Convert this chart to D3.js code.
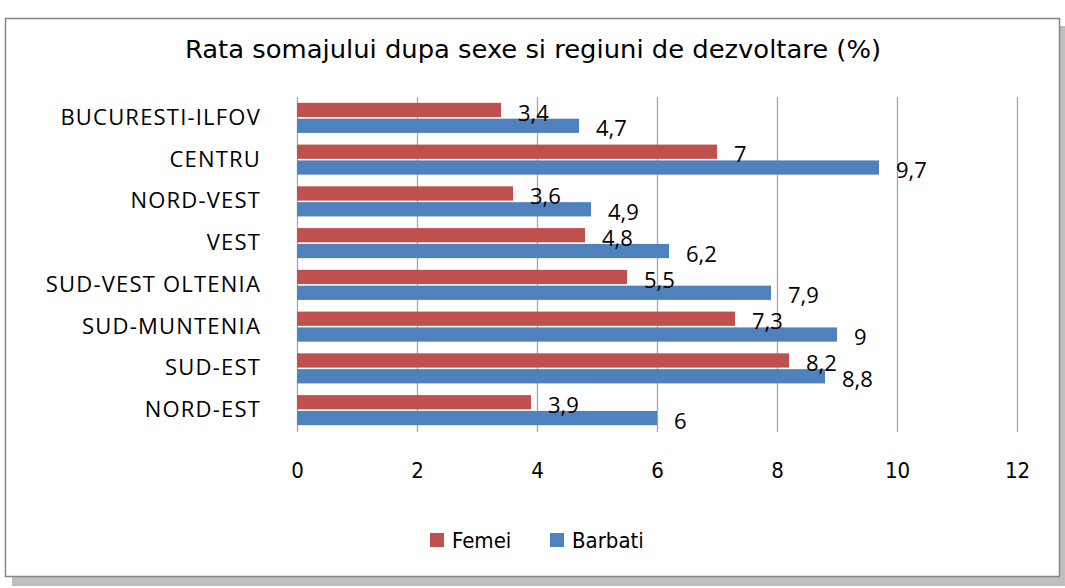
<!DOCTYPE html>
<html><head><meta charset="utf-8">
<script src="https://cdn.jsdelivr.net/npm/d3@7"></script>
<style>body{margin:0;background:#fff}svg{display:block}</style>
</head><body>
<svg id="c" width="1065" height="588"></svg>
<script>
const categories = ["BUCURESTI-ILFOV","CENTRU","NORD-VEST","VEST","SUD-VEST OLTENIA","SUD-MUNTENIA","SUD-EST","NORD-EST"];
const seriesNames = ["Femei","Barbati"];
const femei = [3.4,7,3.6,4.8,5.5,7.3,8.2,3.9];
const barbati = [4.7,9.7,4.9,6.2,7.9,9,8.8,6];
const tickValues = [0,2,4,6,8,10,12];
const colors = ["#C0504D","#4F81BD"];
const title = "Rata somajului dupa sexe si regiuni de dezvoltare (%)";

const narrow = "'Liberation Sans Narrow','DejaVu Sans Condensed','Liberation Sans',sans-serif";
const humanist = "'Open Sans','Noto Sans',sans-serif";
const svg = d3.select("#c");
// shadow and frame
svg.append("rect").attr("x",12).attr("y",26).attr("width",1053).attr("height",560).attr("fill","#bfbfbf");
svg.append("rect").attr("x",5.5).attr("y",18.5).attr("width",1054).attr("height",558).attr("fill","#fff").attr("stroke","#868686").attr("stroke-width",1.5);

svg.append("text").attr("x",533).attr("y",58).attr("text-anchor","middle")
  .attr("font-family",narrow)
  .attr("font-size",24).attr("fill","#000").attr("textLength",696).attr("lengthAdjust","spacingAndGlyphs").text(title);

const x = d3.scaleLinear().domain([0,12]).range([297,1017]);
const y = d3.scaleBand().domain(categories).range([97,431]).paddingInner(0.28).paddingOuter(0.14);
const ys = d3.scaleBand().domain(seriesNames).range([0,y.bandwidth()]).paddingInner(0.1);

// gridlines
svg.append("g").selectAll("line").data(tickValues).join("line")
  .attr("x1",d=>x(d)+0.5).attr("x2",d=>x(d)+0.5).attr("y1",97).attr("y2",432)
  .attr("stroke","#a6a6a6").attr("stroke-width",1.3);

// x axis labels
const xAxis = d3.axisBottom(x).tickValues(tickValues).tickSize(0).tickPadding(0).tickFormat(d3.format("d"));
const gx = svg.append("g").attr("transform","translate(0,462)").call(xAxis);
gx.select(".domain").remove();
gx.selectAll("text").attr("font-family",narrow).attr("font-size",22).attr("fill","#000");

// y axis labels
const yAxis = d3.axisLeft(y).tickSize(0).tickPadding(36);
const gy = svg.append("g").attr("transform","translate(297,0)").call(yAxis);
gy.select(".domain").remove();
gy.selectAll("text").attr("font-family",humanist).attr("font-size",22).attr("letter-spacing",1.2).attr("fill","#000");

const data = [femei,barbati];
seriesNames.forEach((s,i)=>{
  svg.append("g").selectAll("rect").data(data[i]).join("rect")
    .attr("x",x(0)).attr("y",(d,j)=>y(categories[j])+ys(s))
    .attr("width",d=>x(d)-x(0)).attr("height",ys.bandwidth()).attr("fill",colors[i]);
});
seriesNames.forEach((s,i)=>{
  svg.append("g").selectAll("text").data(data[i]).join("text")
    .attr("x",d=>x(d)+17).attr("y",(d,j)=>y(categories[j])+ys(s)+ys.bandwidth()/2+3)
    .attr("dy","0.35em").attr("font-family",humanist).attr("font-size",22).attr("fill","#000")
    .text(d=>String(d).replace(".",","));
});

// legend
const legX = [430,550];
seriesNames.forEach((s,i)=>{
  svg.append("rect").attr("x",legX[i]).attr("y",533).attr("width",14).attr("height",14).attr("fill",colors[i]);
  svg.append("text").attr("x",legX[i]+22).attr("y",540).attr("dy","0.35em")
    .attr("font-family",narrow)
    .attr("font-size",22).attr("fill","#000").text(s);
});
</script>
</body></html>
